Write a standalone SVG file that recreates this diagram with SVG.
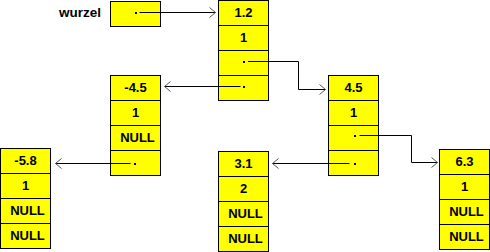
<svg xmlns="http://www.w3.org/2000/svg" width="490" height="252" viewBox="0 0 490 252">
<style>
  .cell { fill: #FFFF00; stroke: #000; stroke-width: 1; }
  .t { font-family: "Liberation Sans", Arial, sans-serif; font-weight: bold; font-size: 13px; fill: #000; text-anchor: middle; }
  .lbl { font-family: "Liberation Sans", Arial, sans-serif; font-weight: bold; font-size: 13.5px; fill: #000; }
  .dot { fill: #000; }
  .conn { fill: none; stroke: #000; stroke-width: 1; }
</style>
<defs>
  <marker id="arr" markerUnits="userSpaceOnUse" markerWidth="8" markerHeight="12" viewBox="-1 -1 8 12" refX="6" refY="5" orient="auto" overflow="visible">
    <path d="M0,0 L6,5 L0,10" fill="none" stroke="#555" stroke-width="1"/>
  </marker>
</defs>

<g id="wurzel">
  <text class="lbl" x="59" y="17">wurzel</text>
  <rect class="cell" x="110.5" y="1.5" width="50" height="25"/>
  <rect class="dot" x="135" y="12" width="2" height="2"/>
</g>

<g id="node-1.2">
  <rect class="cell" x="218.5" y="0.5" width="50" height="25"/>
  <rect class="cell" x="218.5" y="25.5" width="50" height="25"/>
  <rect class="cell" x="218.5" y="50.5" width="50" height="25"/>
  <rect class="cell" x="218.5" y="75.5" width="50" height="25"/>
  <text class="t" x="243.5" y="17">1.2</text>
  <text class="t" x="243.5" y="42">1</text>
  <rect class="dot" x="243" y="61" width="2" height="2"/>
  <rect class="dot" x="243" y="86" width="2" height="2"/>
</g>

<g id="node-m4.5">
  <rect class="cell" x="110.5" y="75.5" width="50" height="25"/>
  <rect class="cell" x="110.5" y="100.5" width="50" height="25"/>
  <rect class="cell" x="110.5" y="125.5" width="50" height="25"/>
  <rect class="cell" x="110.5" y="150.5" width="50" height="25"/>
  <text class="t" x="135.5" y="92">-4.5</text>
  <text class="t" x="135.5" y="117">1</text>
  <text class="t" x="137.5" y="142">NULL</text>
  <rect class="dot" x="134" y="163" width="2" height="2"/>
</g>

<g id="node-m5.8">
  <rect class="cell" x="0.5" y="148.5" width="50" height="25"/>
  <rect class="cell" x="0.5" y="173.5" width="50" height="25"/>
  <rect class="cell" x="0.5" y="198.5" width="50" height="25"/>
  <rect class="cell" x="0.5" y="223.5" width="50" height="25"/>
  <text class="t" x="25.5" y="165">-5.8</text>
  <text class="t" x="25.5" y="190">1</text>
  <text class="t" x="27.5" y="215">NULL</text>
  <text class="t" x="27.5" y="240">NULL</text>
</g>

<g id="node-4.5">
  <rect class="cell" x="328.5" y="75.5" width="50" height="25"/>
  <rect class="cell" x="328.5" y="100.5" width="50" height="25"/>
  <rect class="cell" x="328.5" y="125.5" width="50" height="25"/>
  <rect class="cell" x="328.5" y="150.5" width="50" height="25"/>
  <text class="t" x="353.5" y="92">4.5</text>
  <text class="t" x="353.5" y="117">1</text>
  <rect class="dot" x="354" y="135" width="2" height="2"/>
  <rect class="dot" x="354" y="163" width="2" height="2"/>
</g>

<g id="node-3.1">
  <rect class="cell" x="218.5" y="151.5" width="50" height="25"/>
  <rect class="cell" x="218.5" y="176.5" width="50" height="25"/>
  <rect class="cell" x="218.5" y="201.5" width="50" height="25"/>
  <rect class="cell" x="218.5" y="226.5" width="50" height="25"/>
  <text class="t" x="243.5" y="168">3.1</text>
  <text class="t" x="243.5" y="193">2</text>
  <text class="t" x="245.5" y="218">NULL</text>
  <text class="t" x="245.5" y="243">NULL</text>
</g>

<g id="node-6.3">
  <rect class="cell" x="439.5" y="149.5" width="50" height="25"/>
  <rect class="cell" x="439.5" y="174.5" width="50" height="25"/>
  <rect class="cell" x="439.5" y="199.5" width="50" height="25"/>
  <rect class="cell" x="439.5" y="224.5" width="50" height="25"/>
  <text class="t" x="464.5" y="166">6.3</text>
  <text class="t" x="464.5" y="191">1</text>
  <text class="t" x="466.5" y="216">NULL</text>
  <text class="t" x="466.5" y="241">NULL</text>
</g>

<g id="connectors">
  <path class="conn" d="M139.5,12.5 H215.5" marker-end="url(#arr)"/>
  <path class="conn" d="M248,61.5 H298.5 V89.5 H325.5" marker-end="url(#arr)"/>
  <path class="conn" d="M240.5,86.5 H164.5" marker-end="url(#arr)"/>
  <path class="conn" d="M130.5,163.5 H55.5" marker-end="url(#arr)"/>
  <path class="conn" d="M359.5,135.5 H411.5 V162.5 H437.5" marker-end="url(#arr)"/>
  <path class="conn" d="M349.5,163.5 H272.5" marker-end="url(#arr)"/>
</g>
</svg>
